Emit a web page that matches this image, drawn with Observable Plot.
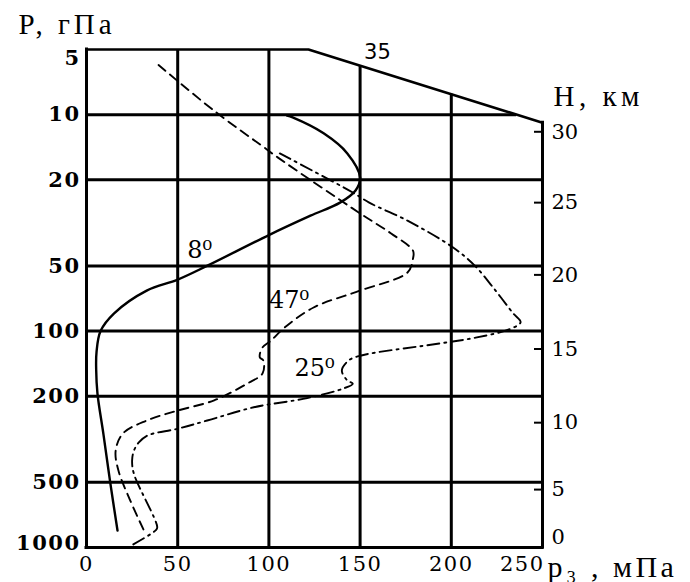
<!DOCTYPE html>
<html><head><meta charset="utf-8">
<script src="https://cdn.jsdelivr.net/npm/d3@7"></script>
<script src="https://cdn.jsdelivr.net/npm/@observablehq/plot@0.6"></script>
<style>body{margin:0;background:#fff}</style>
</head><body><div id="chart"></div>
<script>
// ---- axes / ticks ----
const pTicks = [5, 10, 20, 50, 100, 200, 500, 1000];      // P, гПа
const xTicks = [0, 50, 100, 150, 200, 250];                // p3, мПа
const hKm    = [0, 5, 10, 15, 20, 25, 30];                 // H, км
const hP     = [1000, 540, 265, 121, 55, 25.5, 12];        // pressure of each H tick
const gridX  = [50, 100, 150, 200];
const gridP  = [10, 20, 50, 100, 200, 500];

// ---- titles ----
const titleP = "P, гПа";
const titleH = "H, км";
const titleX = "p₃ , мПа";

// ---- upper boundary (35 km level) ----
const topX = [0, 121.7, 250];
const topP = [5, 5, 10.9];

// ---- 8° (solid) ----
const s8X = [17, 13, 9.3, 6, 5.3, 5.5, 7.7, 15, 33, 50, 66, 100, 122.8, 139, 147.5, 150, 143, 130, 113, 110];
const s8P = [835, 500, 300, 194, 150, 125, 100, 83, 65, 57.8, 50, 36, 29.3, 25.5, 22.4, 19.5, 15.1, 12.2, 10.3, 10.1];

// ---- 47° (dashed) ----
const d47X = [39.5, 70, 98, 105, 150, 167, 179, 179, 176, 150, 124.5, 108, 101, 96.5, 95, 97, 96.5, 88, 70, 50, 33, 20, 16, 17.5, 24, 32];
const d47P = [5.9, 9.6, 14.3, 15.8, 28.6, 35.4, 42.5, 46.2, 53.6, 65, 77.8, 97.3, 111, 119, 132, 137, 157, 175, 209, 233, 259, 297, 356, 441, 607, 853];

// ---- 25° (dash-dot) ----
const dd25X = [106, 146, 155, 176, 201, 213, 223, 234, 238, 232, 214, 194, 150, 143.6, 140, 143, 146, 141, 121, 91.7, 66.2, 49.7, 33.3, 28.7, 26, 25, 26, 38.8, 38, 24];
const dd25P = [15.1, 22.9, 25.5, 30.9, 41.1, 50, 63, 83, 91, 98, 107, 114, 130, 137, 152, 169, 175, 184, 204, 225, 259, 283, 304, 327, 357, 396, 457, 806, 832, 985];

// ---- annotations ----
const curveLabels = ["8⁰", "47⁰", "25⁰"];
const curveLabelX = [62, 111, 125];
const curveLabelP = [42.4, 72.3, 149];
const levelLabel = "35";
const levelLabelX = 159.5;
const levelLabelP = 5.16;

// helpers on the boundary (log-linear interpolation)
const L = Math.log;
function topPAt(x) {
  for (let i = 1; i < topX.length; i++) if (x <= topX[i]) {
    const t = (x - topX[i-1]) / (topX[i] - topX[i-1]);
    return Math.exp(L(topP[i-1]) + t * (L(topP[i]) - L(topP[i-1])));
  }
  return topP[topP.length - 1];
}
function topXAt(p) {
  if (p >= topP[topP.length - 1]) return topX[topX.length - 1];
  for (let i = 1; i < topP.length; i++) if (p <= topP[i] && topP[i] > topP[i-1]) {
    const t = (L(p) - L(topP[i-1])) / (L(topP[i]) - L(topP[i-1]));
    return topX[i-1] + t * (topX[i] - topX[i-1]);
  }
  return topX[0];
}
const zip = (xs, ps) => xs.map((x, i) => ({x, p: ps[i]}));
const xMin = xTicks[0], xMax = xTicks[xTicks.length - 1];
const pMin = pTicks[0], pMax = pTicks[pTicks.length - 1];

const serif = "DejaVu Serif";
const yAxisOpts = {anchor: "left", tickSize: 0, tickPadding: 6, label: null, tickFormat: d => String(d), fontSize: 21, fontWeight: "bold"};
const chart = Plot.plot({
  width: 690, height: 582,
  marginLeft: 86, marginRight: 148, marginTop: 49, marginBottom: 35,
  x: {domain: [xMin, xMax]},
  y: {type: "log", domain: [pMax, pMin]},
  style: {fontFamily: serif, fontSize: "21px", background: "white", color: "black"},
  marks: [
    // grid
    Plot.ruleY(gridP, {y: d => d, x1: xMin, x2: d => topXAt(d), strokeWidth: 3}),
    Plot.ruleX(gridX, {x: d => d, y1: pMax, y2: d => topPAt(d), strokeWidth: 3}),
    // frame
    Plot.ruleX([xMin], {x: d => d, y1: pMax, y2: pMin, strokeWidth: 3, strokeLinecap: "square"}),
    Plot.ruleX([xMax], {x: d => d, y1: pMax, y2: topPAt(xMax), strokeWidth: 3, strokeLinecap: "square"}),
    Plot.ruleY([pMax], {y: d => d, x1: xMin, x2: xMax, strokeWidth: 3, strokeLinecap: "square"}),
    Plot.line(zip(topX, topP), {x: "x", y: "p", strokeWidth: 2.6}),
    // right H ticks (inward)
    Plot.ruleY(hP.slice(1), {y: d => d, x1: xMax, x2: xMax, insetLeft: -8, strokeWidth: 2}),
    // curves
    Plot.line(zip(s8X, s8P), {x: "x", y: "p", curve: "catmull-rom", strokeWidth: 2.4}),
    Plot.line(zip(d47X, d47P), {x: "x", y: "p", curve: "catmull-rom", strokeWidth: 1.9, strokeDasharray: "9,6"}),
    Plot.line(zip(dd25X, dd25P), {x: "x", y: "p", curve: "catmull-rom", strokeWidth: 1.9, strokeDasharray: "12,5,2,5"}),
    // axes
    Plot.axisY(pTicks.slice(0, 1), {...yAxisOpts, dy: 9}),
    Plot.axisY(pTicks.slice(1, -1), yAxisOpts),
    Plot.axisY(pTicks.slice(-1), {...yAxisOpts, dy: -4}),
    Plot.axisX(xTicks.slice(0, -1), {anchor: "bottom", tickSize: 0, tickPadding: 9, label: null, tickFormat: d => String(d), fontSize: 21}),
    Plot.axisX(xTicks.slice(-1), {anchor: "bottom", tickSize: 0, tickPadding: 9, label: null, tickFormat: d => String(d), fontSize: 21, textAnchor: "end", dx: 2}),
    Plot.text(hKm.slice(1), {x: xMax, y: (d, i) => hP[i + 1], text: d => String(d), dx: 9, textAnchor: "start", fontSize: 21}),
    Plot.text(hKm.slice(0, 1), {x: xMax, y: hP[0], text: d => String(d), dx: 9, dy: -10, textAnchor: "start", fontSize: 21}),
    // titles
    Plot.text([titleP], {frameAnchor: "top-left", dx: -68, dy: -25, textAnchor: "start", lineAnchor: "middle", fontSize: 29, fontFamily: "Liberation Serif"}),
    Plot.text([titleH], {frameAnchor: "top-right", dx: 11, dy: 47, textAnchor: "start", lineAnchor: "middle", fontSize: 29, fontFamily: "Liberation Serif"}),
    Plot.text([titleX], {frameAnchor: "bottom-right", dx: 5, dy: 20, textAnchor: "start", lineAnchor: "middle", fontSize: 30, fontFamily: "Liberation Serif"}),
    // annotations
    Plot.text(curveLabels, {x: (d, i) => curveLabelX[i], y: (d, i) => curveLabelP[i], text: d => d, fontSize: 24, textAnchor: "middle"}),
    Plot.text([levelLabel], {x: levelLabelX, y: levelLabelP, text: d => d, fontSize: 21, fontFamily: "DejaVu Sans"})
  ]
});
// letter spacing (the picture's text is wide)
const spacing = new Map([[titleP, "4px"], [titleH, "4.5px"], [titleX, "3.5px"]]);
chart.querySelectorAll("text").forEach(t => {
  if (spacing.has(t.textContent)) t.style.letterSpacing = spacing.get(t.textContent);
});
chart.querySelectorAll('[aria-label="y-axis tick label"], [aria-label="x-axis tick label"]').forEach(g => g.style.letterSpacing = "1.5px");
document.getElementById("chart").appendChild(chart);
</script>
</body></html>
